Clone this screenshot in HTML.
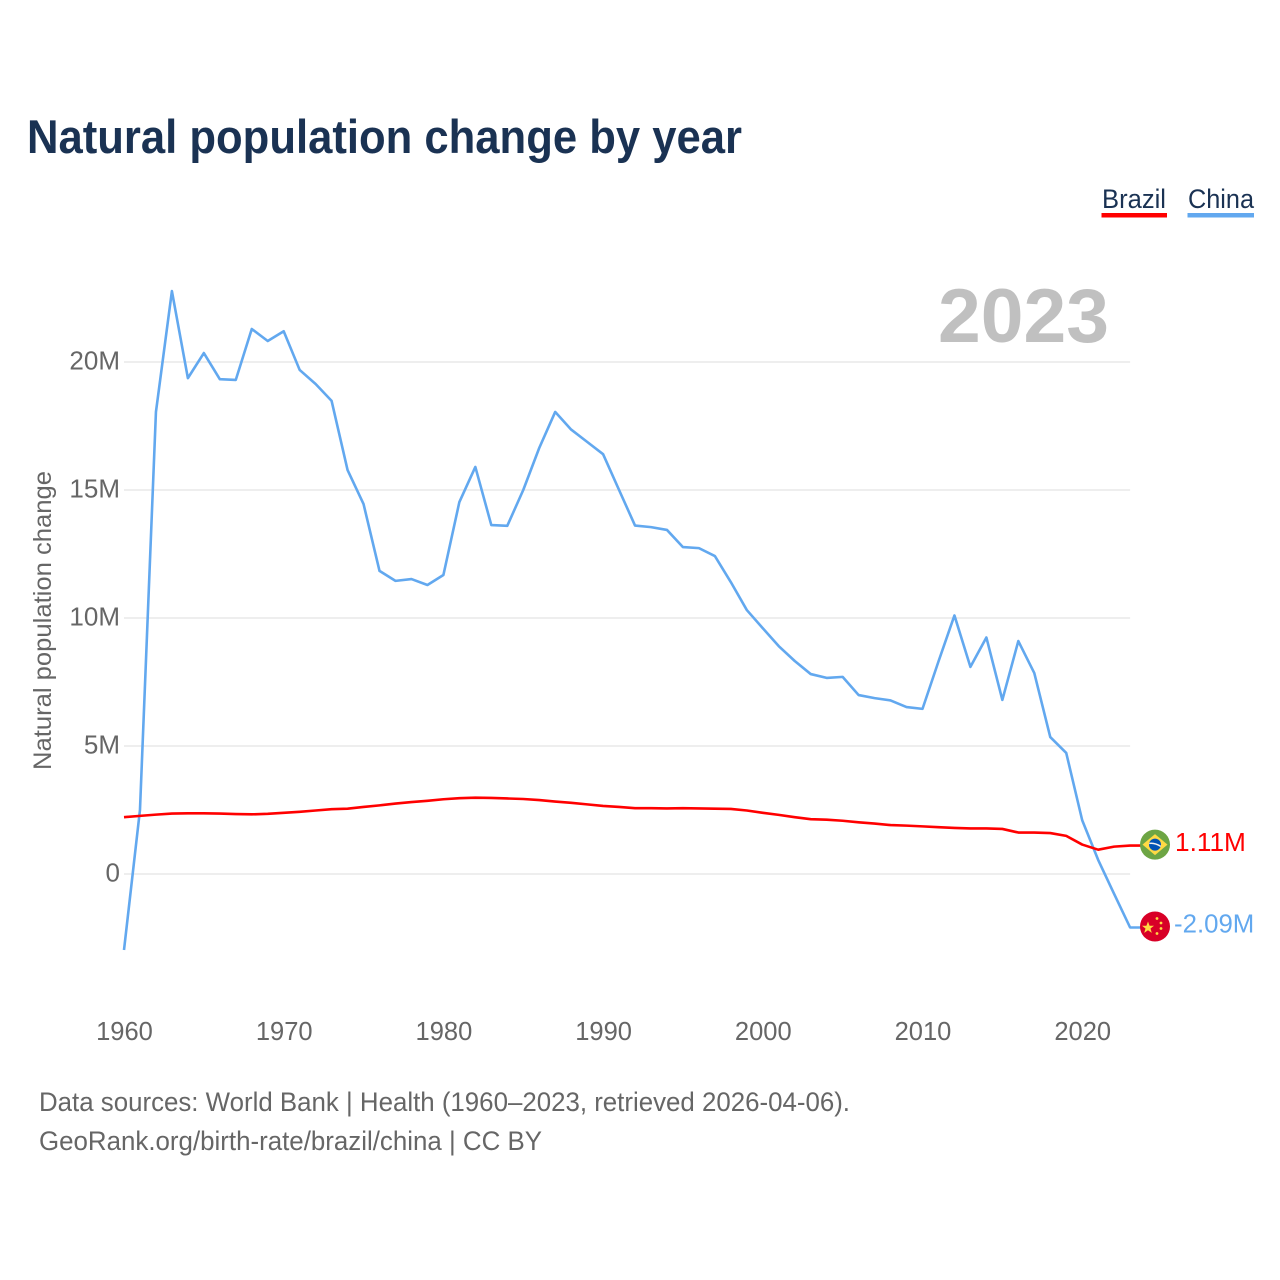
<!DOCTYPE html>
<html lang="en">
<head>
<meta charset="utf-8">
<title>Natural population change by year</title>
<style>
html,body{margin:0;padding:0;background:#fff;}
svg{display:block;font-family:"Liberation Sans",sans-serif;}
</style>
</head>
<body>
<svg id="chart" xmlns="http://www.w3.org/2000/svg" width="1280" height="1280" viewBox="0 0 1280 1280">
  <rect x="0" y="0" width="1280" height="1280" fill="#ffffff"/>
  <text x="27" y="153" font-size="47" font-weight="700" fill="#1a3253" textLength="715" lengthAdjust="spacingAndGlyphs">Natural population change by year</text>

  <g>
    <g>
      <text x="1102" y="208" font-size="27" fill="#1a3253" textLength="64" lengthAdjust="spacingAndGlyphs">Brazil</text>
      <rect x="1101.5" y="213" width="65.5" height="4.5" fill="#ff0000"/>
    </g>
    <g>
      <text x="1188" y="208" font-size="27" fill="#1a3253" textLength="66" lengthAdjust="spacingAndGlyphs">China</text>
      <rect x="1187.5" y="213" width="66.5" height="4.5" fill="#62a8ef"/>
    </g>
  </g>

  <g id="grid"></g>
  <g id="yTicks"></g>
  <g id="xTicks"></g>

  <text transform="translate(51 620.5) rotate(-90)" text-anchor="middle" font-size="25" fill="#666666" textLength="299" lengthAdjust="spacingAndGlyphs">Natural population change</text>

  <text id="yearLabel" x="938" y="342" font-size="76" font-weight="700" fill="#c0c0c0" textLength="171" lengthAdjust="spacingAndGlyphs">2023</text>

  <g id="series"></g>

  <g id="flagBrazil">
    <circle cx="0" cy="0" r="15" fill="#6da544"/>
    <polygon points="0,-10.5 12.5,0 0,10.5 -12.5,0" fill="#ffda44"/>
    <circle cx="0" cy="0" r="6" fill="#0052b4"/>
    <path d="M-5.8,-1.2 Q0,-2 5.7,1.8" stroke="#f0f0f0" stroke-width="1.4" fill="none"/>
  </g>
  <g id="flagChina">
    <circle cx="0" cy="0" r="15" fill="#d80027"/>
    <polygon points="-7,-5 -5.4,-0.7 -1,-0.7 -4.5,2 -3.2,6.4 -7,3.8 -10.8,6.4 -9.5,2 -13,-0.7 -8.6,-0.7" fill="#ffda44"/>
    <circle cx="2" cy="-8" r="1.4" fill="#ffda44"/>
    <circle cx="6" cy="-3.5" r="1.4" fill="#ffda44"/>
    <circle cx="6" cy="2" r="1.4" fill="#ffda44"/>
    <circle cx="2" cy="7" r="1.4" fill="#ffda44"/>
  </g>
  <g id="endLabels"></g>

  <text x="39" y="1111" font-size="27" fill="#666666" textLength="811" lengthAdjust="spacingAndGlyphs">Data sources: World Bank | Health (1960–2023, retrieved 2026-04-06).</text>
  <text x="39" y="1150" font-size="27" fill="#666666" textLength="503" lengthAdjust="spacingAndGlyphs">GeoRank.org/birth-rate/brazil/china | CC BY</text>
</svg>
<script>
var firstYear = 1960;
var xTickYears = [1960, 1970, 1980, 1990, 2000, 2010, 2020];
var yTickValues = [0, 5, 10, 15, 20];
var yTickLabels = ["0", "5M", "10M", "15M", "20M"];

var brazilValues = [2.22,2.27,2.32,2.36,2.37,2.37,2.36,2.34,2.33,2.35,2.39,2.43,2.48,2.53,2.55,2.62,2.68,2.75,2.81,2.86,2.92,2.96,2.98,2.97,2.95,2.93,2.89,2.83,2.78,2.72,2.66,2.62,2.57,2.57,2.56,2.57,2.56,2.55,2.54,2.48,2.39,2.31,2.22,2.14,2.12,2.08,2.02,1.97,1.91,1.89,1.86,1.83,1.80,1.78,1.78,1.76,1.62,1.62,1.60,1.49,1.15,0.95,1.07,1.11];
var chinaValues = [-2.97,2.5,18.05,22.77,19.37,20.35,19.33,19.3,21.29,20.82,21.2,19.69,19.14,18.48,15.78,14.45,11.84,11.45,11.52,11.29,11.68,14.53,15.9,13.63,13.6,15.0,16.64,18.05,17.36,16.88,16.4,15.0,13.61,13.55,13.44,12.77,12.73,12.42,11.4,10.31,9.6,8.9,8.32,7.81,7.66,7.7,6.99,6.87,6.78,6.52,6.45,8.3,10.1,8.09,9.24,6.8,9.1,7.85,5.35,4.73,2.1,0.55,-0.78,-2.09];
var brazilEndLabel = "1.11M";
var chinaEndLabel = "-2.09M";

var svgNS = "http://www.w3.org/2000/svg";
function xScale(year) { return 124 + (year - 1960) * 15.97; }
function yScale(value) { return 874 - value * 25.6; }
function make(tag, parentId) {
  var el = document.createElementNS(svgNS, tag);
  document.getElementById(parentId).appendChild(el);
  return el;
}

yTickValues.forEach(function (v, i) {
  var line = make("line", "grid");
  
  
  line.setAttribute("x1", xScale(1960));
  line.setAttribute("x2", xScale(2023));
  line.setAttribute("y1", yScale(v));
  line.setAttribute("y2", yScale(v));
  line.setAttribute("stroke", "#e9e9e9");
  line.setAttribute("stroke-width", "1.5");

  var t = make("text", "yTicks");
  
  
  t.setAttribute("x", 120);
  t.setAttribute("y", yScale(v) + 7.5);
  t.setAttribute("text-anchor", "end");
  t.setAttribute("font-size", "26");
  t.setAttribute("fill", "#666666");
  t.textContent = yTickLabels[i];
});

xTickYears.forEach(function (yr) {
  var t = make("text", "xTicks");
  
  
  t.setAttribute("x", xScale(yr) + 0.5);
  t.setAttribute("y", 1040);
  t.setAttribute("text-anchor", "middle");
  t.setAttribute("font-size", "25.5");
  t.setAttribute("fill", "#666666");
  t.textContent = String(yr);
});

function linePoints(values) {
  var pts = values.map(function (v, i) {
    return xScale(firstYear + i).toFixed(2) + "," + yScale(v).toFixed(2);
  });
  pts.push("1141," + yScale(values[values.length - 1]).toFixed(2));
  return pts.join(" ");
}

var chinaLine = make("polyline", "series");


chinaLine.setAttribute("points", linePoints(chinaValues));
chinaLine.setAttribute("fill", "none");
chinaLine.setAttribute("stroke", "#62a8ef");
chinaLine.setAttribute("stroke-width", "2.6");
chinaLine.setAttribute("stroke-linejoin", "round");

var brazilLine = make("polyline", "series");


brazilLine.setAttribute("points", linePoints(brazilValues));
brazilLine.setAttribute("fill", "none");
brazilLine.setAttribute("stroke", "#ff0000");
brazilLine.setAttribute("stroke-width", "2.6");
brazilLine.setAttribute("stroke-linejoin", "round");

var brazilY = yScale(brazilValues[brazilValues.length - 1]);
var chinaY = yScale(chinaValues[chinaValues.length - 1]);
document.getElementById("flagBrazil").setAttribute("transform", "translate(1155 " + (brazilY - 1) + ")");
document.getElementById("flagChina").setAttribute("transform", "translate(1155 " + (chinaY - 1) + ")");

var brazilText = make("text", "endLabels");


brazilText.setAttribute("x", 1175);
brazilText.setAttribute("y", brazilY + 5.5);
brazilText.setAttribute("font-size", "26.2");
brazilText.setAttribute("fill", "#ff0000");
brazilText.textContent = brazilEndLabel;

var chinaText = make("text", "endLabels");


chinaText.setAttribute("x", 1174);
chinaText.setAttribute("y", chinaY + 5);
chinaText.setAttribute("font-size", "25.8");
chinaText.setAttribute("fill", "#62a8ef");
chinaText.textContent = chinaEndLabel;
</script>
</body>
</html>
